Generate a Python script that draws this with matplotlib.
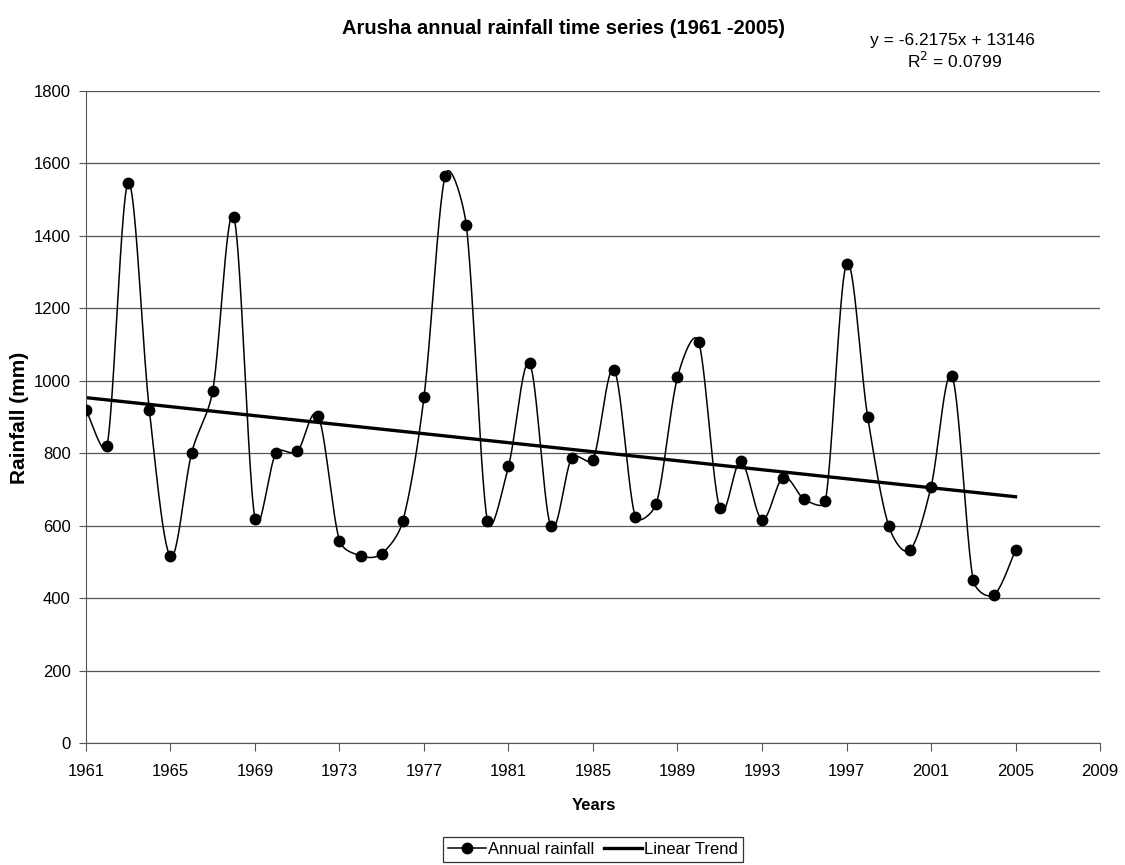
import matplotlib.pyplot as plt
import numpy as np

plt.rcParams["font.family"] = ["Liberation Sans", "DejaVu Sans"]

years = list(range(1961, 2006))
rainfall_mm = [
    920, 820, 1547, 920, 515, 800, 972, 1452, 619, 802,
    805, 902, 559, 517, 523, 613, 955, 1566, 1431, 613,
    764, 1048, 599, 788, 782, 1030, 625, 661, 1010, 1108,
    649, 778, 617, 733, 673, 667, 1323, 901, 599, 533,
    707, 1012, 449, 410, 533,
]

# trend coefficients as printed on the chart
trend_slope = -6.2175
trend_intercept = 13146
trend_r2 = 0.0799

x_ticks = list(range(1961, 2010, 4))
y_ticks = list(range(0, 1801, 200))


def smooth_curve(ax, x, y, steps=40, cap=0.4):
    """Spreadsheet-like smoothed line: Catmull-Rom Bezier segments, with the
    control arms limited to a fraction of the segment length (screen space)."""
    pts = ax.transData.transform(np.column_stack([x, y]))
    p = np.vstack([pts[0], pts, pts[-1]])
    t = np.linspace(0, 1, steps)[:, None]
    out = []
    for i in range(1, len(p) - 2):
        p0, p1, p2, p3 = p[i - 1], p[i], p[i + 1], p[i + 2]
        seg_len = np.hypot(*(p2 - p1))
        a1 = (p2 - p0) / 6
        a2 = (p3 - p1) / 6
        for arm in (a1, a2):
            n = np.hypot(*arm)
            if n > cap * seg_len and n > 0:
                arm *= cap * seg_len / n
        c1 = p1 + a1
        c2 = p2 - a2
        seg = ((1 - t) ** 3 * p1 + 3 * (1 - t) ** 2 * t * c1
               + 3 * (1 - t) * t ** 2 * c2 + t ** 3 * p2)
        out.append(seg)
    out = np.vstack(out)
    data = ax.transData.inverted().transform(out)
    return data[:, 0], data[:, 1]


fig = plt.figure(figsize=(11.25, 8.65), dpi=100)
ax = fig.add_axes([0.0764, 0.141, 0.9014, 0.7538])
ax.set_xlim(1961, 2009)
ax.set_ylim(0, 1800)

sx, sy = smooth_curve(ax, years, rainfall_mm)
ax.plot(sx, sy, color="black", linewidth=1.1, zorder=3)
ax.plot(years, rainfall_mm, linestyle="none", marker="o", markersize=7.5,
        color="black", zorder=4)

trend_x = np.array([years[0], years[-1]])
trend_y = trend_slope * trend_x + trend_intercept
ax.plot(trend_x, trend_y, color="black", linewidth=2.4, zorder=2)

ax.set_xticks(x_ticks)
ax.set_yticks(y_ticks)
ax.tick_params(axis="both", labelsize=12, direction="out", color="#555555")
ax.tick_params(axis="x", length=6, pad=9)
ax.tick_params(axis="y", length=5, pad=6)
ax.yaxis.grid(True, color="#555555", linewidth=0.9)
ax.set_axisbelow(True)
for side in ["top", "right"]:
    ax.spines[side].set_visible(False)
for side in ["left", "bottom"]:
    ax.spines[side].set_color("#555555")

fig.text(594 / 1125, 1 - 805 / 865, "Years", ha="center", va="center",
         fontsize=12, fontweight="bold")
fig.text(20 / 1125, 1 - 418 / 865, "Rainfall (mm)", ha="center", va="center",
         rotation=90, fontsize=15, fontweight="bold")

fig.text(563 / 1125, 1 - 28 / 865,
         "Arusha annual rainfall time series (1961 -2005)",
         ha="center", va="center", fontsize=14.5, fontweight="bold")
fig.text(952 / 1125, 1 - 40 / 865, f"y = {trend_slope}x + {trend_intercept}",
         ha="center", va="center", fontsize=12.5)
fig.text(955 / 1125, 1 - 61 / 865, f"R$^2$ = {trend_r2}",
         ha="center", va="center", fontsize=12.5)

h1, = ax.plot([], [], color="black", linewidth=1.1, marker="o", markersize=7.5)
h2, = ax.plot([], [], color="black", linewidth=2.4)
leg = fig.legend([h1, h2], ["Annual rainfall", "Linear Trend"],
                 loc="upper center", bbox_to_anchor=(0.527, 1 - 837 / 865),
                 ncol=2, fontsize=12, frameon=True, fancybox=False,
                 handlelength=2.3, handletextpad=0.1, columnspacing=0.6,
                 borderpad=0.3, borderaxespad=0)
leg.get_frame().set_edgecolor("black")
leg.get_frame().set_linewidth(0.9)

fig.savefig("out.png", dpi=100)
